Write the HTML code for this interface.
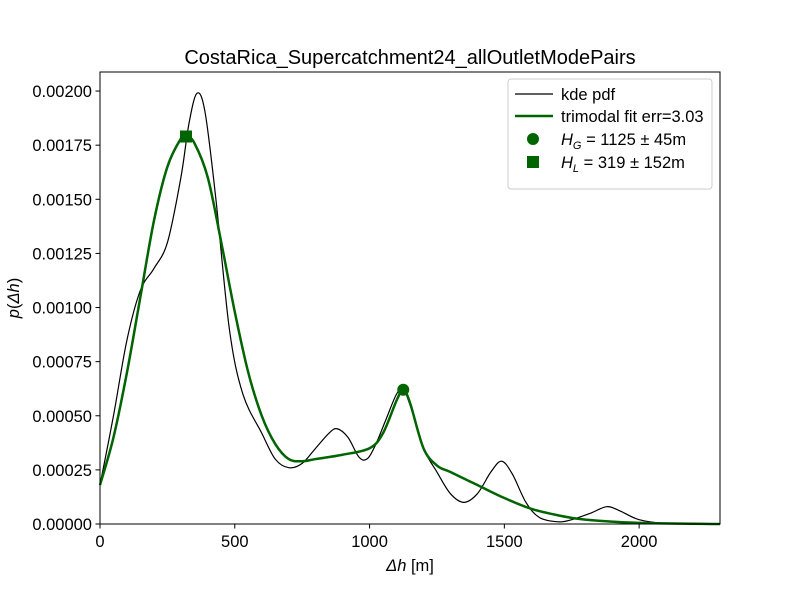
<!DOCTYPE html>
<html><head><meta charset="utf-8"><style>
body{margin:0;background:#fff}
svg text{font-family:"Liberation Sans",Arial,sans-serif;fill:#000}
</style></head><body>
<svg id="chart" width="800" height="600" viewBox="0 0 800 600">
<rect width="800" height="600" fill="#fff"/>
<text x="410" y="64" font-size="20" text-anchor="middle">CostaRica_Supercatchment24_allOutletModePairs</text>
<g id="ticks"></g>
<g id="series"></g>
<rect x="100" y="72" width="620" height="452" fill="none" stroke="#000" stroke-width="1"/>
<text x="410" y="571" font-size="16.5" text-anchor="middle"><tspan font-style="italic">Δh</tspan>  [m]</text>
<text transform="translate(19,298) rotate(-90)" font-size="16.5" text-anchor="middle"><tspan font-style="italic">p</tspan>(<tspan font-style="italic">Δh</tspan>)</text>
<g>
<rect x="508" y="79" width="204" height="110" rx="3" fill="#fff" stroke="#ccc"/>
<line x1="515" y1="94" x2="553" y2="94" stroke="#000" stroke-width="1.2"/>
<text x="561" y="100" font-size="16.5">kde pdf</text>
<line x1="515" y1="116" x2="553" y2="116" stroke="#006400" stroke-width="2.5"/>
<text x="561" y="122" font-size="16.5">trimodal fit err=3.03</text>
<circle cx="533" cy="139" r="6" fill="#006400"/>
<text x="561" y="145" font-size="16.5"><tspan font-style="italic">H</tspan><tspan font-size="11" dy="4" font-style="italic">G</tspan><tspan dy="-4"> = 1125 ± 45m</tspan></text>
<rect x="527" y="156" width="12" height="12" fill="#006400"/>
<text x="561" y="168" font-size="16.5"><tspan font-style="italic">H</tspan><tspan font-size="11" dy="4" font-style="italic">L</tspan><tspan dy="-4"> = 319 ± 152m</tspan></text>
</g>
</svg>
<script>
const xTicks=[0,500,1000,1500,2000];
const yTicks=[0,0.00025,0.0005,0.00075,0.001,0.00125,0.0015,0.00175,0.002];
const yTickLabels=["0.00000","0.00025","0.00050","0.00075","0.00100","0.00125","0.00150","0.00175","0.00200"];
const kdeX=[0,50,100,150,200,250,300,330,360,390,430,480,530,600,650,700,750,800,850,880,920,960,990,1020,1060,1100,1125,1150,1200,1250,1300,1350,1400,1450,1490,1530,1580,1630,1700,1750,1820,1880,1930,2000,2100,2300];
const kdeY=[0.00018,0.0005,0.00085,0.00108,0.00118,0.0013,0.0016,0.00185,0.00199,0.0019,0.0015,0.0009,0.0006,0.00042,0.0003,0.00026,0.00028,0.00035,0.00042,0.00044,0.0004,0.00031,0.0003,0.00036,0.00048,0.0006,0.00062,0.00055,0.00035,0.00024,0.00014,0.0001,0.00014,0.00024,0.00029,0.00023,0.0001,0.00003,0.00001,0.00002,0.00005,0.00008,0.00006,0.00002,0.000003,0];
const fitX=[0,50,100,150,200,250,300,320,350,400,450,500,550,600,650,700,750,800,900,1000,1050,1100,1125,1150,1200,1250,1300,1400,1500,1600,1700,1800,2000,2300];
const fitY=[0.00018,0.0004,0.0007,0.00105,0.0014,0.00165,0.00178,0.00179,0.00176,0.0016,0.0013,0.00098,0.0007,0.0005,0.00037,0.0003,0.00029,0.0003,0.00032,0.00035,0.00042,0.00057,0.00062,0.00056,0.00035,0.00027,0.00024,0.00018,0.00012,0.00007,0.00004,0.00002,0.000005,0];
const hg=[1125,0.00062];
const hl=[319,0.00179];
const NS="http://www.w3.org/2000/svg";
const X=v=>100+v*620/2300;
const Y=v=>524-v*452/0.002088;
function mk(tag,attrs,parent){const e=document.createElementNS(NS,tag);for(const k in attrs)e.setAttribute(k,attrs[k]);parent.appendChild(e);return e;}
const tg=document.getElementById('ticks'),sg=document.getElementById('series');
xTicks.forEach(t=>{
 const l=mk('line',{x1:X(t),x2:X(t),y1:524,y2:528.5,stroke:'#000'},tg);
 
 
 const tx=mk('text',{x:X(t),y:547,'font-size':16.5,'text-anchor':'middle'},tg);tx.textContent=t;
 
 
});
yTicks.forEach((t,i)=>{
 const l=mk('line',{x1:95.5,x2:100,y1:Y(t),y2:Y(t),stroke:'#000'},tg);
 
 
 const tx=mk('text',{x:92,y:Y(t)+6,'font-size':16.5,'text-anchor':'end'},tg);tx.textContent=yTickLabels[i];
 
 
});
function smooth(xs,ys){
 const p=xs.map((x,i)=>[X(x),Y(ys[i])]);
 let d='M'+p[0][0]+','+p[0][1];
 for(let i=0;i<p.length-1;i++){
  const p0=p[Math.max(0,i-1)],p1=p[i],p2=p[i+1],p3=p[Math.min(p.length-1,i+2)];
  const c1=[p1[0]+(p2[0]-p0[0])/6,p1[1]+(p2[1]-p0[1])/6];
  const c2=[p2[0]-(p3[0]-p1[0])/6,p2[1]-(p3[1]-p1[1])/6];
  d+=`C${c1[0]},${c1[1]} ${c2[0]},${c2[1]} ${p2[0]},${p2[1]}`;
 }
 return d;
}
const kde=mk('path',{d:smooth(kdeX,kdeY),fill:'none',stroke:'#000','stroke-width':1.2},sg);


const fit=mk('path',{d:smooth(fitX,fitY),fill:'none',stroke:'#006400','stroke-width':2.5},sg);


const c=mk('circle',{cx:X(hg[0]),cy:Y(hg[1]),r:6,fill:'#006400'},sg);


const s=mk('rect',{x:X(hl[0])-6,y:Y(hl[1])-6,width:12,height:12,fill:'#006400'},sg);


</script>
</body></html>
